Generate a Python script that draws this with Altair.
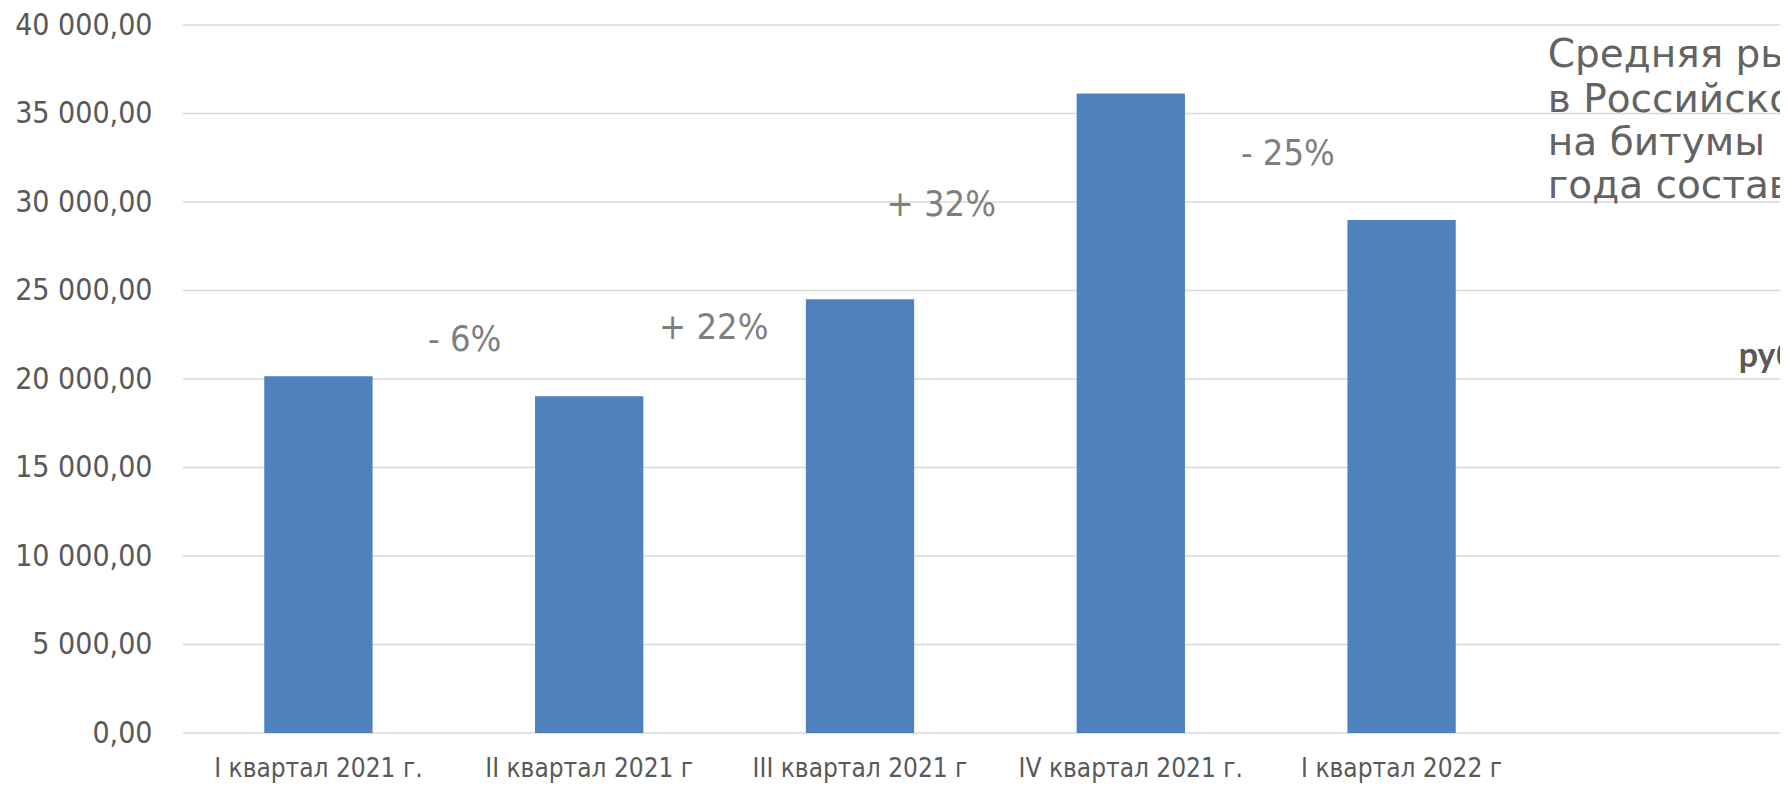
import altair as alt
import pandas as pd

categories = ["I квартал 2021 г.", "II квартал 2021 г", "III квартал 2021 г", "IV квартал 2021 г.", "I квартал 2022 г"]
values = [20150, 19020, 24500, 36130, 28980]
y_ticks = [0, 5000, 10000, 15000, 20000, 25000, 30000, 35000, 40000]

ann_labels = ["- 6%", "+ 22%", "+ 32%", "- 25%"]
ann_pos = [1.04, 1.96, 2.80, 4.08]
ann_vals = [22200, 22900, 29850, 32700]

side_lines = ["Средняя рыночная цена", "в Российской Федерации", "на битумы в I квартале", "года составила"]
side_pos = [5.04, 5.04, 5.04, 5.04]
side_vals = [38300, 35750, 33330, 30900]
unit_label = ["руб."]
unit_pos = [5.745]
unit_vals = [21250]

PLOT_W = 1597
PLOT_H = 708
BAND_RANGE = 1354

bars_df = pd.DataFrame({"cat": categories, "val": values})
grid_df = pd.DataFrame({"val": y_ticks})
ann_df = pd.DataFrame({"label": ann_labels, "pos": ann_pos, "val": ann_vals})
side_df = pd.DataFrame({"label": side_lines, "pos": side_pos, "val": side_vals})
unit_df = pd.DataFrame({"label": unit_label, "pos": unit_pos, "val": unit_vals})

yscale = alt.Scale(domain=[0, 40000])
xq = alt.X("pos:Q", scale=alt.Scale(domain=[0, 5], range=[0, BAND_RANGE]), axis=None)
yq = alt.Y("val:Q", scale=yscale)

label_expr = "replace(replace(format(datum.value, ',.2f'), regexp(',', 'g'), ' '), '.', ',')"

grid = alt.Chart(grid_df).mark_rule(color="#d9d9d9", strokeWidth=1.5).encode(
    y=yq, x=alt.value(0), x2=alt.value(PLOT_W))

bars = alt.Chart(bars_df).mark_bar(color="#4f81bd").encode(
    x=alt.X("cat:N", sort=categories,
            scale=alt.Scale(domain=categories, range=[0, BAND_RANGE], paddingInner=0.6, paddingOuter=0.3),
            axis=alt.Axis(title=None, labelAngle=0, domain=False, ticks=False, tickSize=0,
                          labelFont="DejaVu Sans Condensed", labelFontSize=26, labelColor="#595959",
                          labelPadding=22, labelOverlap=False, labelLimit=0)),
    y=alt.Y("val:Q", scale=yscale,
            axis=alt.Axis(title=None, values=y_ticks, domain=False, ticks=False, grid=False,
                          tickSize=0, labelExpr=label_expr, labelFont="DejaVu Sans Condensed",
                          labelFontSize=30, labelColor="#595959", labelPadding=31)),
)

ann = alt.Chart(ann_df).mark_text(font="DejaVu Sans Condensed", fontSize=36, color="#7f7f7f",
                                  align="center", baseline="middle").encode(
    x=xq, y=yq, text="label:N")

side = alt.Chart(side_df).mark_text(font="DejaVu Sans", fontSize=39, color="#636363",
                                    align="left", baseline="middle", clip=True).encode(
    x=xq, y=yq, text="label:N")

unit = alt.Chart(unit_df).mark_text(font="Lato", fontSize=34, fontWeight="bold", color="#595959",
                                    align="left", baseline="middle", clip=True).encode(
    x=xq, y=yq, text="label:N")

chart = alt.layer(grid, bars, ann, side, unit).resolve_scale(x="independent").properties(
    width=PLOT_W, height=PLOT_H,
    autosize=alt.AutoSizeParams(type="none"),
    padding={"left": 175, "top": 17, "right": 0, "bottom": 50},
).configure_view(stroke=None)

chart.save("out.html", embed_options={"renderer": "svg", "actions": False})
